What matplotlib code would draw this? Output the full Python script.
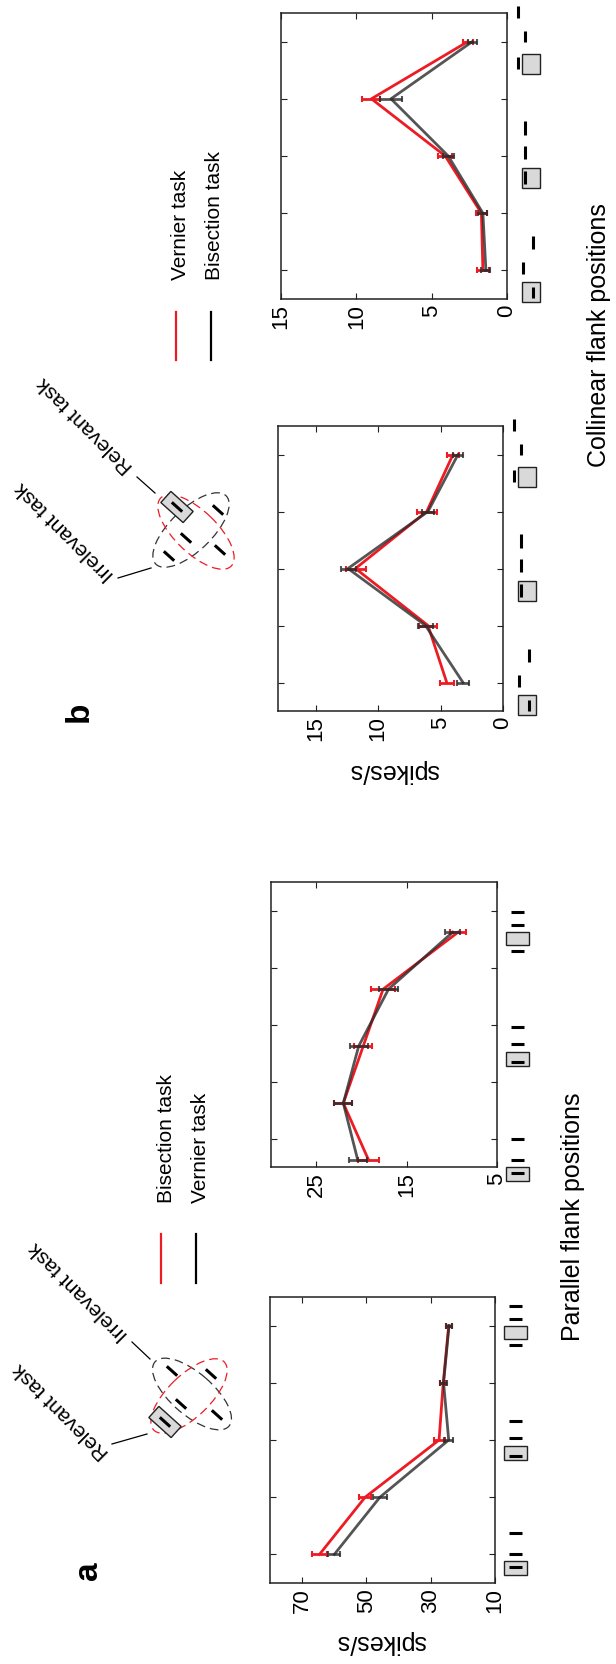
import numpy as np
import matplotlib.pyplot as plt
from matplotlib.patches import Rectangle, Ellipse

plt.rcParams['font.family'] = ['Liberation Sans', 'DejaVu Sans']

W, H = 616, 1665
RED = '#ed1c24'
GRAY = '#2b2b2b'

# panel a: parallel flanks (red = bisection, black = vernier)
a1_bisection = [64.6, 50.4, 27.4, 26.1, 24.4]
a1_bisection_err = [2.3, 1.9, 1.7, 1.0, 1.0]
a1_vernier = [60.0, 45.8, 24.4, 26.0, 24.3]
a1_vernier_err = [1.9, 2.2, 1.4, 1.0, 0.9]
a1_pos = [1, 2, 3, 4, 5]
a1_ticks = [10, 30, 50, 70]

a2_bisection = [19.2, 22.0, 19.8, 17.6, 9.3]
a2_bisection_err = [1.2, 1.0, 1.0, 1.3, 0.9]
a2_vernier = [20.4, 22.0, 20.3, 17.0, 9.9]
a2_vernier_err = [1.0, 1.0, 1.0, 1.0, 0.8]
a2_pos = [0.62, 1.62, 2.62, 3.62, 4.62]
a2_ticks = [5, 15, 25]

# panel b: collinear flanks (red = vernier, black = bisection)
b1_vernier = [4.5, 6.0, 11.8, 6.1, 4.0]
b1_vernier_err = [0.55, 0.7, 0.8, 0.8, 0.5]
b1_bisection = [3.2, 6.2, 12.4, 6.0, 3.6]
b1_bisection_err = [0.45, 0.6, 0.6, 0.5, 0.4]
b1_pos = [1, 2, 3, 4, 5]
b1_ticks = [0, 5, 10, 15]

b2_vernier = [1.6, 1.7, 4.1, 9.0, 2.6]
b2_vernier_err = [0.4, 0.35, 0.45, 0.6, 0.35]
b2_bisection = [1.4, 1.6, 3.9, 7.7, 2.3]
b2_bisection_err = [0.3, 0.3, 0.35, 0.75, 0.3]
b2_pos = [1, 2, 3, 4, 5]
b2_ticks = [0, 5, 10, 15]

fig = plt.figure(figsize=(W / 100, H / 100), dpi=100)

# overlay in image pixel coordinates for annotations
ov = fig.add_axes([0, 0, 1, 1])
ov.set_xlim(0, W)
ov.set_ylim(H, 0)
ov.axis('off')


def px_rect(x0, x1, y0, y1):
    return [x0 / W, 1 - y1 / H, (x1 - x0) / W, (y1 - y0) / H]


def panel(rect, red, red_err, blk, blk_err, pos, xlim, ticks):
    ax = fig.add_axes(px_rect(*rect))
    ax.errorbar(red, pos, xerr=red_err, color=RED, lw=2.0, elinewidth=2.0,
                capsize=2.5, capthick=1.5, zorder=3)
    ax.errorbar(blk, pos, xerr=blk_err, color=GRAY, lw=2.0, elinewidth=2.0,
                capsize=2.5, capthick=1.5, alpha=0.8, zorder=4)
    ax.set_xlim(xlim)
    ax.set_ylim(0.5, 5.5)
    ax.set_xticks(ticks)
    ax.set_yticks([1, 2, 3, 4, 5])
    ax.set_yticklabels([])
    ax.tick_params(direction='in', top=True, right=True, length=4,
                   width=0.8, labelsize=16, pad=3, color='#222222')
    for lbl in ax.get_xticklabels():
        lbl.set_rotation(90)
    for s in ax.spines.values():
        s.set_linewidth(1.1)
        s.set_color('#222222')
    return ax


axA1 = panel((270, 495, 1298, 1584), a1_bisection, a1_bisection_err,
             a1_vernier, a1_vernier_err, a1_pos, (80, 10), a1_ticks)
axA2 = panel((271, 497, 883, 1168), a2_bisection, a2_bisection_err,
             a2_vernier, a2_vernier_err, a2_pos, (30, 5), a2_ticks)
axB1 = panel((278, 503, 427, 712), b1_vernier, b1_vernier_err,
             b1_bisection, b1_bisection_err, b1_pos, (18, 0), b1_ticks)
axB2 = panel((281, 507, 14, 300), b2_vernier, b2_vernier_err,
             b2_bisection, b2_bisection_err, b2_pos, (15, 0), b2_ticks)


def img_y(ax, pos):
    return H - ax.transData.transform((0, pos))[1]


def right_px(ax):
    return ax.transAxes.transform((1, 0))[0]


def box(x0, x1, y0, y1):
    ov.add_patch(Rectangle((x0, y0), x1 - x0, y1 - y0, facecolor='#d9d9d9',
                           edgecolor='#222222', lw=1.0))


def dash(x0, y0, x1, y1):
    ov.plot([x0, x1], [y0, y1], color='black', lw=2.2, solid_capstyle='butt')


# category icons (parallel flanks): box rows, horizontal bars
par_icons = {1: ((7, 21), [13, 0, -21]),
             3: ((6, 20), [16, -2, -19]),
             5: ((0, 13), [-7, -20, 19])}
for ax, pos in ((axA1, a1_pos), (axA2, a2_pos)):
    R = right_px(ax)
    for k, (bx, bars) in par_icons.items():
        c = img_y(ax, pos[k - 1])
        box(R + 9, R + 32, c + bx[0], c + bx[1])
        for dy in bars:
            dash(R + 14, c + dy, R + 27, c + dy)

# category icons (collinear flanks): vertical bars
col_icons = {1: [(26, 17, 28), (16, -8, 4), (26, -34, -21)],
             3: [(18, 15, 28), (18, -10, 3), (18, -35, -21)],
             5: [(11, 15, 27), (18, -11, 0), (11, -36, -24)]}
for ax, pos in ((axB1, b1_pos), (axB2, b2_pos)):
    R = right_px(ax)
    for k, bars in col_icons.items():
        c = img_y(ax, pos[k - 1])
        box(R + 15, R + 33, c + 12, c + 32)
        for dx, y0, y1 in bars:
            dash(R + dx, c + y0, R + dx, c + y1)

# axis labels
tkw = dict(fontsize=18, ha='center', va='center')
ov.text(381, 1642, 'spikes/s', rotation=180, **tkw)
ov.text(394, 771, 'spikes/s', rotation=180, **tkw)
ov.text(573, 1217, 'Parallel flank positions', rotation=90, **tkw)
ov.text(599, 335, 'Collinear flank positions', rotation=90, **tkw)

# panel letters
ov.text(88, 1571, 'a', rotation=90, fontsize=24, fontweight='bold',
        ha='center', va='center')
ov.text(79, 712, 'b', rotation=90, fontsize=24, fontweight='bold',
        ha='center', va='center')

# legends
lkw = dict(fontsize=15, rotation=90, ha='left', va='center',
           rotation_mode='anchor')
ov.plot([161, 161], [1235, 1284], color=RED, lw=1.6)
ov.plot([196, 196], [1235, 1284], color='black', lw=1.6)
ov.text(166, 1203, 'Bisection task', **lkw)
ov.text(200, 1203, 'Vernier task', **lkw)
ov.plot([176, 176], [313, 361], color=RED, lw=1.6)
ov.plot([211, 211], [313, 361], color='black', lw=1.6)
ov.text(181, 280, 'Vernier task', **lkw)
ov.text(215, 280, 'Bisection task', **lkw)


# stimulus diagrams
def diagram(red_c, red_ang, blk_c, blk_ang, box_c, bars):
    ov.add_patch(Ellipse(blk_c, 98, 42, angle=blk_ang, fill=False,
                         edgecolor='#333333', lw=0.9, ls=(0, (7, 4))))
    ov.add_patch(Ellipse(red_c, 98, 42, angle=red_ang, fill=False,
                         edgecolor=RED, lw=0.9, ls=(0, (7, 4))))
    ov.add_patch(Rectangle((box_c[0] - 15, box_c[1] - 7.5), 30, 15, angle=42,
                           rotation_point='center', facecolor='#d9d9d9',
                           edgecolor='#222222', lw=1.0))
    t = np.deg2rad(42)
    for cx, cy in bars:
        dash(cx - 7 * np.cos(t), cy - 7 * np.sin(t),
             cx + 7 * np.cos(t), cy + 7 * np.sin(t))


diagram((189, 1397), -44, (192, 1395), 41, (165, 1423),
        [(165, 1423), (181, 1405), (211, 1375), (172, 1372), (217, 1416)])
diagram((196, 533), 44, (191, 531), -44, (177, 508),
        [(177, 508), (186, 539), (169, 557), (218, 511), (220, 551)])

akw = dict(fontsize=15, rotation=135, ha='center', va='center')
ov.text(61, 1411, 'Relevant task', **akw)
ov.text(79, 1291, 'Irrelevant task', **akw)
ov.plot([112, 147], [1445, 1435], color='black', lw=0.9)
ov.plot([132, 150], [1343, 1360], color='black', lw=0.9)
ov.text(65, 531, 'Irrelevant task', **akw)
ov.text(85, 425, 'Relevant task', **akw)
ov.plot([118, 151], [579, 569], color='black', lw=0.9)
ov.plot([137, 155], [478, 494], color='black', lw=0.9)

fig.savefig('out.png', dpi=100)
